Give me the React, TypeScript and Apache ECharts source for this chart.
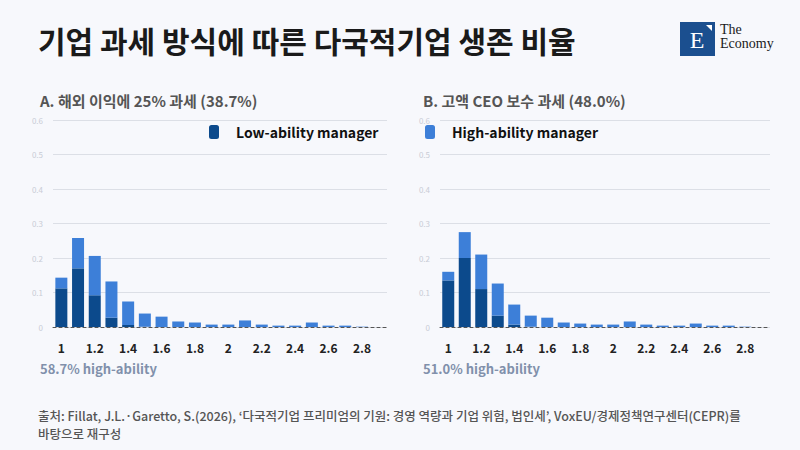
import { useEffect, useRef } from "react";
import * as echarts from "echarts";

const categories = ["1", "1.1", "1.2", "1.3", "1.4", "1.5", "1.6", "1.7", "1.8", "1.9", "2", "2.1", "2.2", "2.3", "2.4", "2.5", "2.6", "2.7", "2.8", "2.9"];

// A. 해외 이익에 25% 과세
const lowA = [0.112, 0.17, 0.092, 0.027, 0.006, 0.001, 0, 0, 0, 0, 0, 0, 0, 0, 0, 0, 0, 0, 0, 0];
const highA = [0.031, 0.088, 0.114, 0.105, 0.068, 0.038, 0.03, 0.016, 0.013, 0.007, 0.007, 0.019, 0.007, 0.004, 0.004, 0.013, 0.004, 0.004, 0.001, 0];

// B. 고액 CEO 보수 과세
const lowB = [0.135, 0.2, 0.11, 0.033, 0.007, 0.001, 0, 0, 0, 0, 0, 0, 0, 0, 0, 0, 0, 0, 0, 0];
const highB = [0.025, 0.075, 0.1, 0.093, 0.058, 0.032, 0.027, 0.013, 0.01, 0.007, 0.007, 0.016, 0.007, 0.004, 0.004, 0.01, 0.004, 0.004, 0.001, 0];

const LOW = "#0c4a8c";
const HIGH = "#3d7fd8";
const FONT = "'Noto Sans CJK KR', 'Noto Sans', sans-serif";

export default function App() {
  const ref = useRef<HTMLDivElement>(null);

  useEffect(() => {
    document.body.style.margin = "0";
    if (!ref.current) return;
    const chart = echarts.init(ref.current, undefined, { renderer: "svg" });

    const xAxis = (gridIndex: number) => ({
      type: "category" as const,
      gridIndex,
      data: categories,
      axisTick: { show: false },
      axisLine: { lineStyle: { color: "#555", type: [3, 3] as any, width: 1 } },
      axisLabel: { interval: 1, color: "#222", fontSize: 12, fontWeight: "bold", fontFamily: FONT, margin: 14 },
    });
    const yAxis = (gridIndex: number) => ({
      type: "value" as const,
      gridIndex,
      min: 0,
      max: 0.6,
      interval: 0.1,
      axisLabel: {
        color: "#c9ccd6",
        fontSize: 8,
        fontFamily: FONT,
        margin: 10,
        formatter: (v: number) => (v === 0 ? "0" : String(Math.round(v * 10) / 10)),
      },
      splitLine: { lineStyle: { color: "#dcdfe6" } },
    });
    const bar = (name: string, data: number[], color: string, idx: number) => ({
      name,
      type: "bar" as const,
      xAxisIndex: idx,
      yAxisIndex: idx,
      stack: "s" + idx,
      data,
      barWidth: 12,
      itemStyle: { color },
    });
    const legendText = { fontSize: 14, fontWeight: "bold" as const, color: "#111", fontFamily: FONT, padding: [0, 0, 0, 12] };

    chart.setOption({
      animation: false,
      backgroundColor: "#f7f8fc",
      textStyle: { fontFamily: FONT },
      title: [
        { text: "기업 과세 방식에 따른 다국적기업 생존 비율", left: 33, top: 20, textStyle: { fontSize: 30, fontWeight: "bold", color: "#1a1a1a", fontFamily: FONT } },
        { text: "A. 해외 이익에 25% 과세 (38.7%)", left: 35, top: 88, textStyle: { fontSize: 15, fontWeight: 600, color: "#555", fontFamily: FONT } },
        { text: "B. 고액 CEO 보수 과세 (48.0%)", left: 418, top: 88, textStyle: { fontSize: 15, fontWeight: 600, color: "#555", fontFamily: FONT } },
        { text: "58.7% high-ability", left: 35, top: 357, textStyle: { fontSize: 13, fontWeight: "bold", color: "#8190ab", fontFamily: FONT } },
        { text: "51.0% high-ability", left: 418, top: 357, textStyle: { fontSize: 13, fontWeight: "bold", color: "#8190ab", fontFamily: FONT } },
        {
          text: "출처: Fillat, J.L.·Garetto, S.(2026), ‘다국적기업 프리미엄의 기원: 경영 역량과 기업 위험, 법인세’, VoxEU/경제정책연구센터(CEPR)를\n바탕으로 재구성",
          left: 33,
          top: 401,
          textStyle: { fontSize: 12.5, fontWeight: 500, color: "#555", lineHeight: 18, fontFamily: FONT },
        },
      ],
      legend: [
        { data: ["Low-ability manager"], left: 204, top: 120, itemWidth: 10, itemHeight: 14, itemGap: 0, textStyle: legendText },
        { data: ["High-ability manager"], left: 420, top: 120, itemWidth: 10, itemHeight: 14, itemGap: 0, textStyle: legendText },
      ],
      grid: [
        { left: 53, right: 413, top: 120, bottom: 123 },
        { left: 440, right: 30, top: 120, bottom: 123 },
      ],
      xAxis: [xAxis(0), xAxis(1)],
      yAxis: [yAxis(0), yAxis(1)],
      series: [
        bar("Low-ability manager", lowA, LOW, 0),
        bar("High-ability manager", highA, HIGH, 0),
        bar("Low-ability manager", lowB, LOW, 1),
        bar("High-ability manager", highB, HIGH, 1),
      ],
      graphic: [
        { type: "rect", shape: { x: 680, y: 22, width: 35, height: 34 }, style: { fill: "#1b4f8f" } },
        { type: "polygon", shape: { points: [[706, 25], [712, 25], [712, 31]] }, style: { fill: "#fff" } },
        { type: "text", x: 697, y: 40, style: { text: "E", fill: "#fff", font: "24px 'Liberation Serif', serif", align: "center", verticalAlign: "middle" } },
        { type: "text", x: 720, y: 22, style: { text: "The\nEconomy", fill: "#1a1a1a", font: "14px 'Liberation Serif', serif", lineHeight: 14 } },
      ],
    });

    return () => chart.dispose();
  }, []);

  return <div ref={ref} style={{ width: 800, height: 450 }} />;
}
